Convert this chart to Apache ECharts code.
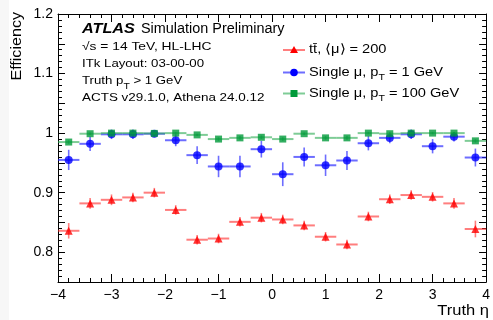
<!DOCTYPE html>
<html>
<head>
<meta charset="utf-8">
<script src="https://cdn.jsdelivr.net/npm/echarts@6/dist/echarts.min.js"></script>
<style>
html,body{margin:0;padding:0;background:#fff;}
#c{width:493px;height:320px;}
</style>
</head>
<body>
<div id="c"></div>
<script>
// ---- data ----
const etaCenters = [-3.8,-3.4,-3.0,-2.6,-2.2,-1.8,-1.4,-1.0,-0.6,-0.2,0.2,0.6,1.0,1.4,1.8,2.2,2.6,3.0,3.4,3.8];
const binHalfWidth = 0.2;
const ttbarEff = [0.836,0.882,0.888,0.892,0.900,0.871,0.821,0.823,0.851,0.858,0.855,0.845,0.826,0.813,0.860,0.889,0.896,0.893,0.882,0.839];
const ttbarErr = [0.013,0.009,0.009,0.008,0.008,0.008,0.008,0.008,0.008,0.008,0.008,0.008,0.008,0.008,0.008,0.008,0.008,0.008,0.009,0.014];
const mu1Eff = [0.955,0.982,0.998,0.998,0.999,0.988,0.963,0.944,0.944,0.973,0.931,0.960,0.946,0.954,0.983,0.992,0.998,0.978,0.994,0.959];
const mu1Err = [0.017,0.012,0.008,0.008,0.006,0.010,0.015,0.018,0.018,0.014,0.020,0.016,0.018,0.016,0.012,0.009,0.008,0.012,0.008,0.015];
const mu100Eff = [0.985,0.999,1.000,1.000,0.9995,1.000,0.997,0.990,0.992,0.993,0.990,0.999,0.992,0.992,1.000,0.999,1.000,1.000,1.000,0.987];
const mu100Err = [0.003,0.002,0.002,0.002,0.002,0.002,0.002,0.003,0.003,0.003,0.003,0.002,0.003,0.003,0.002,0.002,0.002,0.002,0.002,0.003];
const xTickLabels = {'-4':'\u22124','-3':'\u22123','-2':'\u22122','-1':'\u22121','0':'0','1':'1','2':'2','3':'3','4':'4'};
const yTickLabels = [0.8,0.9,1.0,1.1,1.2];

const FONT = '"Liberation Sans", Arial, Helvetica, sans-serif';
const RED = '#ff0000', RED_BAR = 'rgba(255,40,40,0.6)';
const BLUE = '#0000ff', BLUE_BAR = 'rgba(30,30,255,0.65)';
const GREEN = '#009a3a', GREEN_BAR = 'rgba(40,170,80,0.6)';

function pts(eff, err){ return etaCenters.map((x,i)=>[x, eff[i], err[i]]); }

function errRender(color){
  return function(params, api){
    const x = api.value(0), y = api.value(1), e = api.value(2);
    const l = api.coord([x - binHalfWidth, y]), r = api.coord([x + binHalfWidth, y]);
    const t = api.coord([x, y + e]), b = api.coord([x, y - e]);
    return {type:'group', children:[
      {type:'line', shape:{x1:l[0],y1:l[1],x2:r[0],y2:r[1]}, style:{stroke:color,lineWidth:2}},
      {type:'line', shape:{x1:t[0],y1:t[1],x2:b[0],y2:b[1]}, style:{stroke:color,lineWidth:1.6}}
    ]};
  };
}

const chart = echarts.init(document.getElementById('c'), null, {renderer:'canvas'});

const axisCommon = {
  type:'value',
  axisLine:{show:true, onZero:false, lineStyle:{color:'#000', width:1}},
  axisTick:{show:true, inside:true, length:8, lineStyle:{color:'#000', width:1}},
  minorTick:{show:true, splitNumber:5, length:4, lineStyle:{color:'#000', width:1}},
  splitLine:{show:false},
  minorSplitLine:{show:false}
};

const sub = {fontSize:9, fontFamily:FONT, color:'#000', verticalAlign:'bottom', lineHeight:9};
const norm = {fontSize:12.5, fontFamily:FONT, color:'#000', lineHeight:20};

function legendEntry(y, color, barColor, symbol, text){
  const els = [
    {type:'line', shape:{x1:283,y1:y,x2:305,y2:y}, style:{stroke:barColor,lineWidth:2}, z:10}
  ];
  if(symbol==='tri') els.push({type:'polygon', shape:{points:[[294,y-4],[290,y+3],[298,y+3]]}, style:{fill:color}, z:11});
  if(symbol==='circ') els.push({type:'circle', shape:{cx:294,cy:y,r:3.8}, style:{fill:color}, z:11});
  if(symbol==='rect') els.push({type:'rect', shape:{x:290.5,y:y-3.5,width:7,height:7}, style:{fill:color}, z:11});
  els.push({type:'text', x:309, y:y, scaleX:1.17, z:11, style:{text:text, rich:{n:norm, s:sub}, font:'12.5px '+FONT, fill:'#000', textVerticalAlign:'middle', textAlign:'left'}});
  return els;
}

const option = {
  animation:false,
  backgroundColor:'#fff',
  grid:{left:58, right:4, top:14, bottom:38, containLabel:false},
  xAxis:[
    Object.assign({}, axisCommon, {min:-4, max:4, interval:1, position:'bottom',
      axisLabel:{show:true, fontSize:14, fontFamily:FONT, color:'#000', margin:6,
        formatter:(v)=> xTickLabels[String(Math.round(v))] }}),
    Object.assign({}, axisCommon, {min:-4, max:4, interval:1, position:'top',
      axisLabel:{show:false}})
  ],
  yAxis:[
    Object.assign({}, axisCommon, {min:0.75, max:1.2, interval:0.05, position:'left',
      axisTick:{show:true, inside:true, length:7, lineStyle:{color:'#000', width:1}},
      axisLabel:{show:true, fontSize:14, fontFamily:FONT, color:'#000', margin:5,
        formatter:(v)=>{ const m = yTickLabels.find(t=>Math.abs(t-v)<1e-6); return m===undefined ? '' : (m===1 ? '1' : m.toFixed(1)); }}}),
    Object.assign({}, axisCommon, {min:0.75, max:1.2, interval:0.05, position:'right',
      axisTick:{show:true, inside:true, length:7, lineStyle:{color:'#000', width:1}},
      axisLabel:{show:false}})
  ],
  series:[
    {type:'custom', name:'ttbarErr', renderItem:errRender(RED_BAR), data:pts(ttbarEff,ttbarErr), z:2, silent:true},
    {type:'scatter', name:'ttbar', data:pts(ttbarEff,ttbarErr), symbol:'triangle', symbolSize:8, itemStyle:{color:RED}, z:3},
    {type:'custom', name:'mu1Err', renderItem:errRender(BLUE_BAR), data:pts(mu1Eff,mu1Err), z:4, silent:true},
    {type:'scatter', name:'mu1', data:pts(mu1Eff,mu1Err), symbol:'circle', symbolSize:8, itemStyle:{color:BLUE}, z:5},
    {type:'custom', name:'mu100Err', renderItem:errRender(GREEN_BAR), data:pts(mu100Eff,mu100Err), z:6, silent:true},
    {type:'scatter', name:'mu100', data:pts(mu100Eff,mu100Err), symbol:'rect', symbolSize:7, itemStyle:{color:GREEN}, z:7}
  ],
  graphic:[
    {type:'rect', shape:{x:0,y:0,width:9,height:320}, style:{fill:'#f7f7f7'}, z:-1, silent:true},
    {type:'text', x:17, y:12, rotation:Math.PI/2, scaleX:1.15, style:{text:'Efficiency', font:'14px '+FONT, fill:'#000', textAlign:'right', textVerticalAlign:'middle'}},
    {type:'text', x:489, y:311, scaleX:1.1, style:{text:'Truth \u03b7', font:'15px '+FONT, fill:'#000', textAlign:'right', textVerticalAlign:'middle'}},
    {type:'text', x:82, y:29, scaleX:1.16, style:{text:'ATLAS', font:'italic bold 14px '+FONT, fill:'#000', textAlign:'left', textVerticalAlign:'middle'}},
    {type:'text', x:141, y:29, scaleX:1.03, style:{text:'Simulation Preliminary', font:'14px '+FONT, fill:'#000', textAlign:'left', textVerticalAlign:'middle'}},
    {type:'text', x:82, y:47, scaleX:1.2, style:{text:'\u221as = 14 TeV, HL-LHC', font:'11.5px '+FONT, fill:'#000', textAlign:'left', textVerticalAlign:'middle'}},
    {type:'text', x:82, y:64, scaleX:1.15, style:{text:'ITk Layout: 03-00-00', font:'11.5px '+FONT, fill:'#000', textAlign:'left', textVerticalAlign:'middle'}},
    {type:'text', x:82, y:81, scaleX:1.15, style:{text:'{n|Truth p}{s|T}{n| > 1 GeV}', rich:{n:Object.assign({},norm,{fontSize:11.5}), s:sub}, font:'11.5px '+FONT, fill:'#000', textAlign:'left', textVerticalAlign:'middle'}},
    {type:'text', x:82, y:97.5, scaleX:1.17, style:{text:'ACTS v29.1.0, Athena 24.0.12', font:'11.5px '+FONT, fill:'#000', textAlign:'left', textVerticalAlign:'middle'}}
  ].concat(
    legendEntry(50, RED, RED_BAR, 'tri', '{n|tt\u0304, \u27e8\u03bc\u27e9 = 200}'),
    legendEntry(72.5, BLUE, BLUE_BAR, 'circ', '{n|Single \u03bc, p}{s|T}{n| = 1 GeV}'),
    legendEntry(93.5, GREEN, GREEN_BAR, 'rect', '{n|Single \u03bc, p}{s|T}{n| = 100 GeV}')
  )
};
chart.setOption(option);
</script>
</body>
</html>
